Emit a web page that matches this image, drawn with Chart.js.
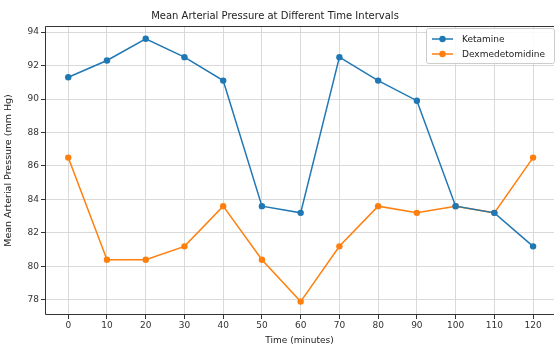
<!DOCTYPE html>
<html lang="en">
<head>
    <meta charset="UTF-8">
    <title>Mean Arterial Pressure</title>
    <script src="https://cdn.jsdelivr.net/npm/chart.js"></script>
    <style>
        html, body { margin: 0; padding: 0; background: #fff; }
        .wrap { width: 558px; height: 347px; }
    </style>
</head>
<body>
    <div class="wrap"><canvas id="mapChart" width="558" height="347"></canvas></div>
    <script>
        const times = [0, 10, 20, 30, 40, 50, 60, 70, 80, 90, 100, 110, 120];
        const ketamine = [91.3, 92.3, 93.6, 92.5, 91.1, 83.6, 83.2, 92.5, 91.1, 89.9, 83.6, 83.2, 81.2];
        const dexmed = [86.5, 80.4, 80.4, 81.2, 83.6, 80.4, 77.9, 81.2, 83.6, 83.2, 83.6, 83.2, 86.5];
        const seriesNames = ['Ketamine', 'Dexmedetomidine'];
        const yTicks = [78, 80, 82, 84, 86, 88, 90, 92, 94];

        const FONT = 'DejaVu Sans';

        function pts(vals) {
            return times.map((t, i) => ({ x: t, y: vals[i] }));
        }

        // title, frame and matplotlib-like legend
        const extras = {
            id: 'extras',
            afterDraw(chart) {
                const c = chart.ctx, a = chart.chartArea;
                c.save();
                c.strokeStyle = '#333';
                c.lineWidth = 1;
                c.beginPath();
                c.moveTo(a.right, a.top + 0.5);
                c.lineTo(a.left + 0.5, a.top + 0.5);
                c.lineTo(a.left + 0.5, a.bottom - 0.5);
                c.lineTo(a.right, a.bottom - 0.5);
                c.stroke();

                c.fillStyle = '#222';
                c.font = '10px ' + FONT;
                c.textAlign = 'center';
                c.textBaseline = 'middle';
                c.fillText('Mean Arterial Pressure at Different Time Intervals', 275, 16);

                // legend
                const bx = 426, by = 28, bw = 128, bh = 35;
                c.fillStyle = 'rgba(255,255,255,0.85)';
                c.strokeStyle = '#ccc';
                c.beginPath();
                c.roundRect(bx + 0.5, by + 0.5, bw, bh, 2);
                c.fill();
                c.stroke();
                c.font = '9px ' + FONT;
                c.textAlign = 'left';
                chart.data.datasets.forEach((ds, i) => {
                    const y = by + 11 + i * 15;
                    c.strokeStyle = ds.borderColor;
                    c.lineWidth = 1.5;
                    c.beginPath();
                    c.moveTo(bx + 6, y);
                    c.lineTo(bx + 27, y);
                    c.stroke();
                    c.fillStyle = ds.borderColor;
                    c.beginPath();
                    c.arc(bx + 16.5, y, 3.2, 0, Math.PI * 2);
                    c.fill();
                    c.fillStyle = '#222';
                    c.fillText(ds.label, bx + 36, y + 0.5);
                });
                c.restore();
            }
        };

        new Chart(document.getElementById('mapChart'), {
            type: 'line',
            data: {
                datasets: [
                    {
                        label: seriesNames[0],
                        data: pts(ketamine),
                        borderColor: '#1f77b4',
                        backgroundColor: '#1f77b4',
                        borderWidth: 1.5,
                        pointRadius: 3.2,
                        pointBorderWidth: 0,
                        tension: 0
                    },
                    {
                        label: seriesNames[1],
                        data: pts(dexmed),
                        borderColor: '#ff7f0e',
                        backgroundColor: '#ff7f0e',
                        borderWidth: 1.5,
                        pointRadius: 3.2,
                        pointBorderWidth: 0,
                        tension: 0
                    }
                ]
            },
            options: {
                responsive: false,
                animation: false,
                layout: { padding: { top: 26, right: 0, left: 0, bottom: 0 } },
                plugins: {
                    legend: { display: false },
                    tooltip: { enabled: false }
                },
                scales: {
                    x: {
                        type: 'linear',
                        min: -6,
                        max: 125.4,
                        afterBuildTicks(scale) {
                            scale.ticks = times.map(v => ({ value: v }));
                        },
                        afterFit(scale) { scale.height = 32; },
                        grid: { color: '#d9d9d9', tickLength: 4, tickColor: '#333', drawTicks: true },
                        border: { display: false },
                        ticks: { color: '#333', font: { family: FONT, size: 9 }, padding: 1, maxRotation: 0 },
                        title: {
                            display: true,
                            text: 'Time (minutes)',
                            color: '#222',
                            font: { family: FONT, size: 9 },
                            padding: { top: 0, bottom: 1 }
                        }
                    },
                    y: {
                        min: 77.1,
                        max: 94.36,
                        afterBuildTicks(scale) {
                            scale.ticks = yTicks.map(v => ({ value: v }));
                        },
                        afterFit(scale) { scale.width = 45; },
                        grid: { color: '#d9d9d9', tickLength: 4, tickColor: '#333' },
                        border: { display: false },
                        ticks: { color: '#333', font: { family: FONT, size: 9 }, padding: 2 },
                        title: {
                            display: true,
                            text: 'Mean Arterial Pressure (mm Hg)',
                            color: '#222',
                            font: { family: FONT, size: 9.5 },
                            padding: { top: 3, bottom: 0 }
                        }
                    }
                }
            },
            plugins: [extras]
        });
    </script>
</body>
</html>
